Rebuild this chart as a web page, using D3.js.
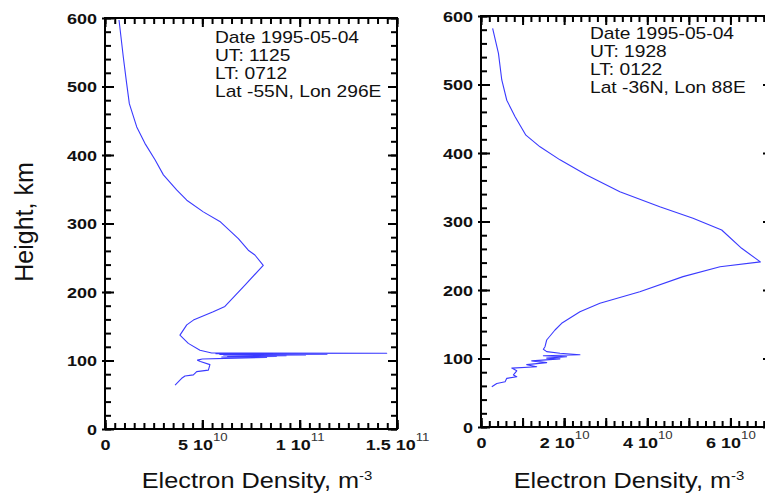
<!DOCTYPE html>
<html><head><meta charset="utf-8">
<script src="https://cdn.jsdelivr.net/npm/d3@7"></script>
<style>
body{margin:0;background:#fff;}
svg{display:block;font-family:"Liberation Sans",Arial,sans-serif;background:#fff;}
</style></head><body>
<svg id="chart" width="765" height="495"></svg>
<script>
// ---------- data ----------
const heightTicks = [0, 100, 200, 300, 400, 500, 600];
const heightTitle = "Height, km";
const densityTitle = "Electron Density, m";
const densityTitleSup = "-3";

// left profile: density in units of 1e10 m^-3, height in km
const leftDensity = [0.72, 0.94, 1.11, 1.25, 1.63, 2.05, 2.57, 3.0, 3.68, 4.2, 5.05, 5.9, 6.85, 7.36, 7.7, 8.13,
  7.19, 6.16, 5.56, 4.54, 4.2, 3.85, 4.28, 4.88, 5.48, 14.47, 5.7, 11.4, 5.9, 10.3, 6.1, 9.3, 6.3, 8.8, 6.0, 8.3,
  6.7, 5.0, 4.75, 4.9, 5.39, 5.31, 4.71, 4.54, 4.11, 3.94, 3.85, 3.6];
const leftHeight = [597, 543, 505, 475, 441, 417, 393, 371, 349, 334, 317, 303, 278, 261, 254, 239,
  210, 179, 171, 159, 152, 137, 125, 115, 111, 110.5, 110.0, 109.3, 108.8, 108.2, 107.6, 107.0, 106.4, 105.8, 105.2, 104.5,
  103.5, 102.2, 100.5, 98.5, 94, 86, 83.7, 79, 77.4, 74, 71.5, 64.2];
const leftXTicks = [0, 5, 10, 15];
const leftXTickMain = ["0", "5 10", "1 10", "1.5 10"];
const leftXTickSup = ["", "10", "11", "11"];
const leftInfo = ["Date 1995-05-04", "UT: 1125", "LT: 0712", "Lat -55N, Lon 296E"];

// right profile
const rightDensity = [0.28, 0.42, 0.50, 0.62, 0.82, 1.08, 1.42, 1.90, 2.54, 3.34, 4.30, 5.10, 5.79, 6.27, 6.72,
  5.75, 4.86, 3.82, 2.86, 2.38, 1.94, 1.78, 1.58, 1.54, 1.50, 1.58, 1.90, 2.38, 1.50, 2.06, 1.58, 1.90,
  1.22, 1.58, 1.10, 1.34, 0.74, 0.86, 0.78, 0.86, 0.62, 0.58, 0.38, 0.26];
const rightHeight = [582, 545.5, 506.6, 477, 453, 426, 409, 390, 368, 343.5, 321.6, 304.7, 287.6, 260.9, 241,
  234, 219.5, 197.5, 180.6, 168.3, 151.4, 141.6, 127, 117.2, 113.4, 110, 107.6, 105.5, 104, 102.5, 100.5, 99.5,
  96.5, 94, 91, 88, 86, 82, 76, 73.4, 71, 66, 63.6, 58.8];
const rightXTicks = [0, 2, 4, 6];
const rightXTickMain = ["0", "2 10", "4 10", "6 10"];
const rightXTickSup = ["", "10", "10", "10"];
const rightInfo = ["Date 1995-05-04", "UT: 1928", "LT: 0122", "Lat -36N, Lon 88E"];

// ---------- drawing ----------
const svg = d3.select("#chart");
const SX = 1.2; // horizontal text stretch of the original

const panels = [
  {x0: 105, x1: 397, y0: 18, y1: 429, xMax: 15, minor: 0.5, mid: null,
   dens: leftDensity, hgt: leftHeight, ticks: leftXTicks, main: leftXTickMain, sup: leftXTickSup,
   info: leftInfo, infoX: 215, infoY: 43, titleX: 257},
  {x0: 481, x1: 772, y0: 16, y1: 427, xMax: 7, minor: 0.2, mid: 1,
   dens: rightDensity, hgt: rightHeight, ticks: rightXTicks, main: rightXTickMain, sup: rightXTickSup,
   info: rightInfo, infoX: 590, infoY: 39, titleX: 629}
];

function range(a, b, s) { const r = []; for (let v = a; v <= b + 1e-9; v += s) r.push(+v.toFixed(4)); return r; }

panels.forEach(p => {
  const x = d3.scaleLinear().domain([0, p.xMax]).range([p.x0, p.x1]);
  const y = d3.scaleLinear().domain([0, 600]).range([p.y1, p.y0]);
  const g = svg.append("g");

  const minorX = range(0, p.xMax, p.minor);
  const midX = p.mid ? range(0, p.xMax, p.mid) : p.ticks;
  const minorY = range(0, 600, 20);
  const MINOR = -6, MAJOR = -9;

  const styleAxis = sel => { sel.select(".domain").remove(); sel.selectAll("line").attr("stroke", "#000").attr("stroke-width", 2); };

  // minor ticks on four sides (pointing inward)
  g.append("g").attr("transform", `translate(0,${p.y1})`).call(d3.axisBottom(x).tickValues(minorX).tickSize(MINOR).tickFormat("")).call(styleAxis);
  g.append("g").attr("transform", `translate(0,${p.y0})`).call(d3.axisTop(x).tickValues(minorX).tickSize(MINOR).tickFormat("")).call(styleAxis);
  g.append("g").attr("transform", `translate(${p.x0},0)`).call(d3.axisLeft(y).tickValues(minorY).tickSize(MINOR).tickFormat("")).call(styleAxis);
  g.append("g").attr("transform", `translate(${p.x1},0)`).call(d3.axisRight(y).tickValues(minorY).tickSize(MINOR).tickFormat("")).call(styleAxis);
  // major ticks
  g.append("g").attr("transform", `translate(0,${p.y0})`).call(d3.axisTop(x).tickValues(midX).tickSize(MAJOR).tickFormat("")).call(styleAxis);
  g.append("g").attr("transform", `translate(0,${p.y1})`).call(d3.axisBottom(x).tickValues(midX).tickSize(MAJOR).tickFormat("")).call(styleAxis);
  g.append("g").attr("transform", `translate(${p.x1},0)`).call(d3.axisRight(y).tickValues(heightTicks).tickSize(MAJOR).tickFormat("")).call(styleAxis);
  // short outward part of the major height ticks
  g.append("g").attr("transform", `translate(${p.x0},0)`).call(d3.axisLeft(y).tickValues(heightTicks).tickSize(3).tickFormat("")).call(styleAxis);

  // labelled left axis
  const ya = g.append("g").attr("transform", `translate(${p.x0},0)`)
    .call(d3.axisLeft(y).tickValues(heightTicks).tickSize(MAJOR).tickPadding(0).tickFormat(d3.format("d")))
    .call(styleAxis);
  ya.selectAll(".tick text")
    .attr("x", -8 / SX).attr("dy", "0.36em")
    .attr("transform", `scale(${SX},1)`)
    .attr("font-size", 15).attr("font-weight", "bold").attr("fill", "#111")
    .attr("font-family", "'Liberation Sans', Arial, sans-serif");

  // labelled bottom axis
  const xa = g.append("g").attr("transform", `translate(0,${p.y1})`)
    .call(d3.axisBottom(x).tickValues(p.ticks).tickSize(MAJOR).tickFormat(""))
    .call(styleAxis);
  xa.selectAll(".tick text").each(function(d, i) {
    const t = d3.select(this);
    t.attr("y", 21).attr("dy", 0).attr("transform", `scale(${SX},1)`)
      .attr("font-size", 15).attr("font-weight", "bold").attr("fill", "#111")
      .attr("font-family", "'Liberation Sans', Arial, sans-serif");
    t.append("tspan").text(p.main[i]);
    if (p.sup[i]) t.append("tspan").attr("dy", -9).attr("font-size", 11).attr("font-weight", "normal").attr("fill", "#333").text(p.sup[i]);
  });

  // frame
  g.append("rect").attr("x", p.x0).attr("y", p.y0).attr("width", p.x1 - p.x0).attr("height", p.y1 - p.y0)
    .attr("fill", "none").attr("stroke", "#000").attr("stroke-width", 2);

  // profile
  const pts = p.dens.map((v, i) => [v, p.hgt[i]]);
  g.append("path").datum(pts)
    .attr("d", d3.line().x(d => x(d[0])).y(d => y(d[1])))
    .attr("fill", "none").attr("stroke", "#3a3aff").attr("stroke-width", 1.1).attr("stroke-linejoin", "round");

  // info text
  p.info.forEach((s, i) => {
    g.append("text").attr("transform", `translate(${p.infoX},${p.infoY + i * 18}) scale(${SX},1)`)
      .attr("font-size", 16).attr("fill", "#111").text(s);
  });

  // x title
  const tt = g.append("text").attr("transform", `translate(${p.titleX},488) scale(1.15,1)`)
    .attr("text-anchor", "middle").attr("font-size", 22).attr("fill", "#111");
  tt.append("tspan").text(densityTitle);
  tt.append("tspan").attr("dy", -8).attr("font-size", 13).text(densityTitleSup);
});

// y title
svg.append("text").attr("transform", "translate(33,222) rotate(-90)")
  .attr("text-anchor", "middle").attr("font-size", 25).attr("fill", "#111").text(heightTitle);
</script>
</body></html>
